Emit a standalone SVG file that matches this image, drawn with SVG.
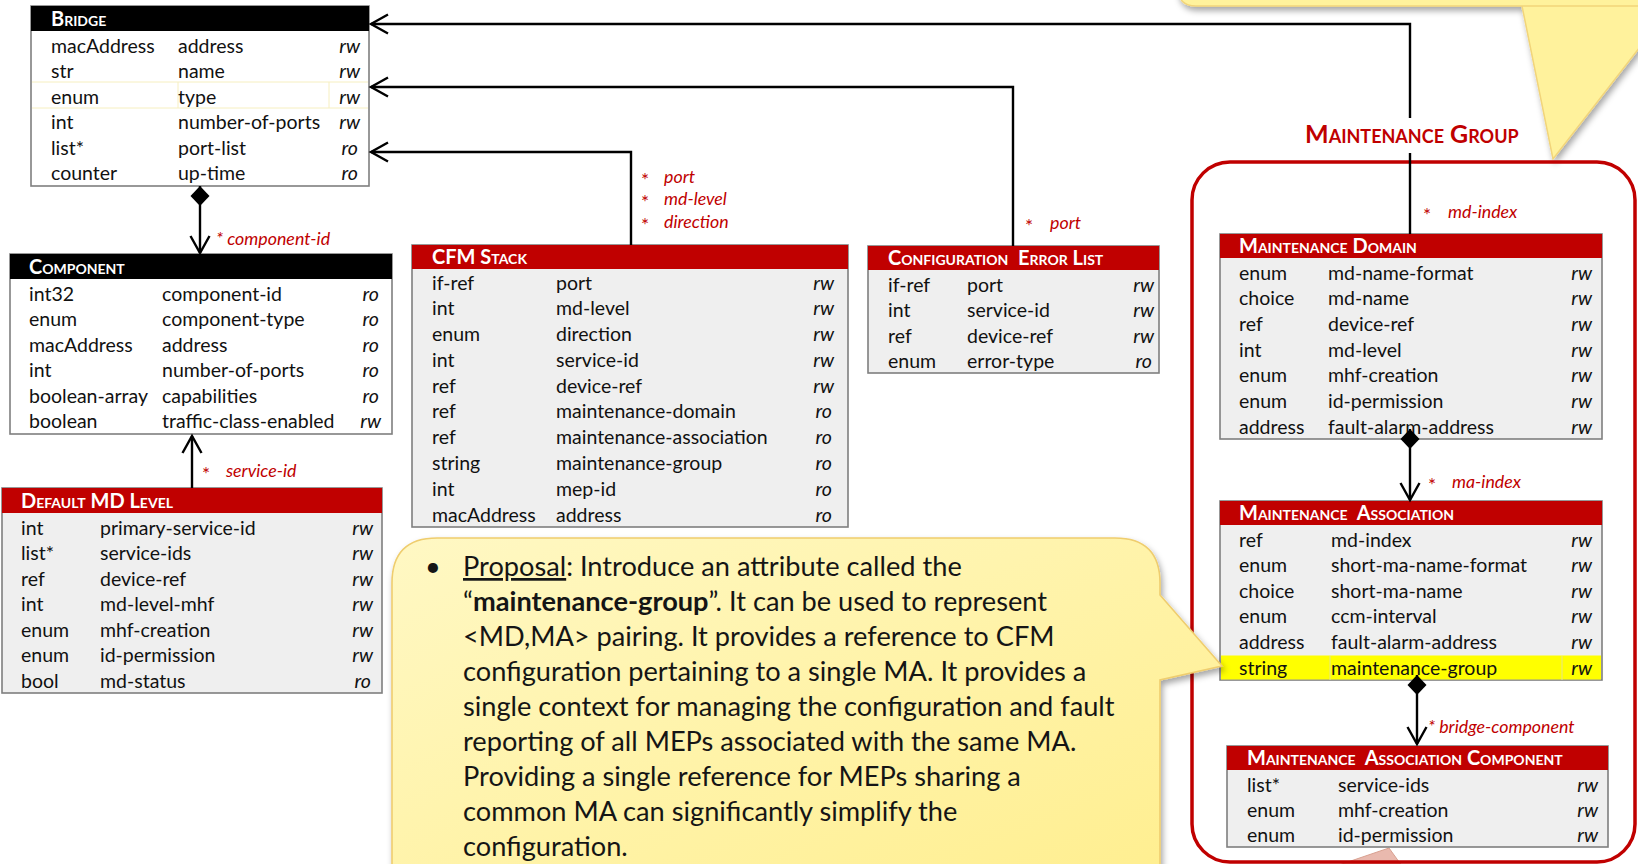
<svg xmlns="http://www.w3.org/2000/svg" width="1638" height="864" viewBox="0 0 1638 864">
  <defs>
    <style>
      .box { stroke: #7f7f7f; stroke-width: 1.6; }
      .gray { fill: #efefef; }
      .white { fill: #ffffff; }
      .hred { fill: #c00000; }
      .hblk { fill: #000000; }
      .title { font-family: Lato, "Liberation Sans", sans-serif; font-weight: bold; font-variant: small-caps; font-size: 20px; fill: #ffffff; white-space: pre; }
      .cell { font-family: Lato, "Liberation Sans", sans-serif; font-size: 19.5px; fill: #111111; }
      .acc { font-family: Lato, "Liberation Sans", sans-serif; font-size: 19.5px; font-style: italic; fill: #111111; text-anchor: end; }
      .lbl { font-family: Lato, "Liberation Sans", sans-serif; font-size: 17.8px; font-style: italic; fill: #c00000; }
      .star { font-family: Lato, "Liberation Sans", sans-serif; font-size: 19px; fill: #c00000; }
      .conn { fill: none; stroke: #000000; stroke-width: 2.4; }
      .note { font-family: Lato, "Liberation Sans", sans-serif; font-size: 27.2px; fill: #151515; }
      .grp { font-family: Lato, "Liberation Sans", sans-serif; font-weight: bold; font-variant: small-caps; font-size: 25px; fill: #c00000; }
    </style>
    <marker id="arrow" markerUnits="userSpaceOnUse" markerWidth="26" markerHeight="26" viewBox="-22 -13 26 26" refX="0" refY="0" orient="auto">
      <path d="M-17,-9.5 L0,0 L-17,9.5" fill="none" stroke="#000" stroke-width="2.4"/>
    </marker>
    <marker id="diamond" markerUnits="userSpaceOnUse" markerWidth="26" markerHeight="26" viewBox="-2 -13 26 26" refX="0" refY="0" orient="auto">
      <path d="M0,0 L10,-9.5 L20,0 L10,9.5 Z" fill="#000"/>
    </marker>
    <linearGradient id="noteFill" x1="0" y1="0" x2="1" y2="1">
      <stop offset="0" stop-color="#fff8c4"/>
      <stop offset="1" stop-color="#ffee8c"/>
    </linearGradient>
    <filter id="shadow" x="-5%" y="-5%" width="110%" height="115%">
      <feDropShadow dx="2" dy="4" stdDeviation="3" flood-color="#000" flood-opacity="0.35"/>
    </filter>
  </defs>

  <rect width="1638" height="864" fill="#ffffff"/>

  <!-- callout peeking in at the top right -->
  <g id="note-top" filter="url(#shadow)">
    <path d="M1196,-40 H1660 V6 H1522 L1553,159 L1640,47 V6 H1522 H1196 Q1178,6 1178,-12 V-40 Z" fill="#fff29c" stroke="#f2d57a" stroke-width="1.5"/>
  </g>

  <!-- callout peeking in at the bottom -->
  <polygon id="note-bottom" points="1336,866 1389,848 1402,866" fill="#e9b9ae" stroke="#d8a090" stroke-width="1"/>

  <!-- maintenance group frame -->
  <g id="maintenance-group">
    <rect x="1192" y="162" width="443" height="700" rx="38" ry="38" fill="none" stroke="#c00000" stroke-width="3.5"/>
    <text class="grp" x="1305" y="143">Maintenance Group</text>
  </g>

  <!-- Bridge -->
  <g id="bridge">
    <rect class="box white" x="31" y="6" width="338" height="180"/>
    <rect class="hblk" x="31" y="6" width="338" height="25"/>
    <path d="M32,82 H368 M32,108 H368 M178,82 V108 M329,82 V108" stroke="#f6efc0" stroke-width="1" fill="none"/>
    <text class="title" x="51" y="26">Bridge</text>
    <text class="cell" x="51" y="52.5">macAddress</text><text class="cell" x="178" y="52.5">address</text><text class="acc" x="360" y="52.5">rw</text>
    <text class="cell" x="51" y="78">str</text><text class="cell" x="178" y="78">name</text><text class="acc" x="360" y="78">rw</text>
    <text class="cell" x="51" y="103.5">enum</text><text class="cell" x="178" y="103.5">type</text><text class="acc" x="360" y="103.5">rw</text>
    <text class="cell" x="51" y="129">int</text><text class="cell" x="178" y="129">number-of-ports</text><text class="acc" x="360" y="129">rw</text>
    <text class="cell" x="51" y="154.5">list*</text><text class="cell" x="178" y="154.5">port-list</text><text class="acc" x="358" y="154.5">ro</text>
    <text class="cell" x="51" y="180">counter</text><text class="cell" x="178" y="180">up-time</text><text class="acc" x="358" y="180">ro</text>
  </g>

  <!-- Component -->
  <g id="component">
    <rect class="box white" x="10" y="254" width="382" height="180"/>
    <rect class="hblk" x="10" y="254" width="382" height="25"/>
    <text class="title" x="29" y="274">Component</text>
    <text class="cell" x="29" y="300.5">int32</text><text class="cell" x="162" y="300.5">component-id</text><text class="acc" x="379" y="300.5">ro</text>
    <text class="cell" x="29" y="326">enum</text><text class="cell" x="162" y="326">component-type</text><text class="acc" x="379" y="326">ro</text>
    <text class="cell" x="29" y="351.5">macAddress</text><text class="cell" x="162" y="351.5">address</text><text class="acc" x="379" y="351.5">ro</text>
    <text class="cell" x="29" y="377">int</text><text class="cell" x="162" y="377">number-of-ports</text><text class="acc" x="379" y="377">ro</text>
    <text class="cell" x="29" y="402.5">boolean-array</text><text class="cell" x="162" y="402.5">capabilities</text><text class="acc" x="379" y="402.5">ro</text>
    <text class="cell" x="29" y="428">boolean</text><text class="cell" x="162" y="428">traffic-class-enabled</text><text class="acc" x="381" y="428">rw</text>
  </g>

  <!-- Default MD Level -->
  <g id="default-md-level">
    <rect class="box gray" x="2" y="488" width="380" height="205"/>
    <rect class="hred" x="2" y="488" width="380" height="25"/>
    <text class="title" x="21" y="508">Default MD Level</text>
    <text class="cell" x="21" y="534.5">int</text><text class="cell" x="100" y="534.5">primary-service-id</text><text class="acc" x="373" y="534.5">rw</text>
    <text class="cell" x="21" y="560">list*</text><text class="cell" x="100" y="560">service-ids</text><text class="acc" x="373" y="560">rw</text>
    <text class="cell" x="21" y="585.5">ref</text><text class="cell" x="100" y="585.5">device-ref</text><text class="acc" x="373" y="585.5">rw</text>
    <text class="cell" x="21" y="611">int</text><text class="cell" x="100" y="611">md-level-mhf</text><text class="acc" x="373" y="611">rw</text>
    <text class="cell" x="21" y="636.5">enum</text><text class="cell" x="100" y="636.5">mhf-creation</text><text class="acc" x="373" y="636.5">rw</text>
    <text class="cell" x="21" y="662">enum</text><text class="cell" x="100" y="662">id-permission</text><text class="acc" x="373" y="662">rw</text>
    <text class="cell" x="21" y="687.5">bool</text><text class="cell" x="100" y="687.5">md-status</text><text class="acc" x="371" y="687.5">ro</text>
  </g>

  <!-- CFM Stack -->
  <g id="cfm-stack">
    <rect class="box gray" x="412" y="245" width="436" height="282"/>
    <rect class="hred" x="412" y="245" width="436" height="24"/>
    <text class="title" x="432" y="264">CFM Stack</text>
    <text class="cell" x="432" y="289.5">if-ref</text><text class="cell" x="556" y="289.5">port</text><text class="acc" x="834" y="289.5">rw</text>
    <text class="cell" x="432" y="315.3">int</text><text class="cell" x="556" y="315.3">md-level</text><text class="acc" x="834" y="315.3">rw</text>
    <text class="cell" x="432" y="341.1">enum</text><text class="cell" x="556" y="341.1">direction</text><text class="acc" x="834" y="341.1">rw</text>
    <text class="cell" x="432" y="366.8">int</text><text class="cell" x="556" y="366.8">service-id</text><text class="acc" x="834" y="366.8">rw</text>
    <text class="cell" x="432" y="392.6">ref</text><text class="cell" x="556" y="392.6">device-ref</text><text class="acc" x="834" y="392.6">rw</text>
    <text class="cell" x="432" y="418.4">ref</text><text class="cell" x="556" y="418.4">maintenance-domain</text><text class="acc" x="832" y="418.4">ro</text>
    <text class="cell" x="432" y="444.2">ref</text><text class="cell" x="556" y="444.2">maintenance-association</text><text class="acc" x="832" y="444.2">ro</text>
    <text class="cell" x="432" y="469.9">string</text><text class="cell" x="556" y="469.9">maintenance-group</text><text class="acc" x="832" y="469.9">ro</text>
    <text class="cell" x="432" y="495.7">int</text><text class="cell" x="556" y="495.7">mep-id</text><text class="acc" x="832" y="495.7">ro</text>
    <text class="cell" x="432" y="521.5">macAddress</text><text class="cell" x="556" y="521.5">address</text><text class="acc" x="832" y="521.5">ro</text>
  </g>

  <!-- Configuration Error List -->
  <g id="configuration-error-list">
    <rect class="box gray" x="868" y="246" width="291" height="127"/>
    <rect class="hred" x="868" y="246" width="291" height="24"/>
    <text class="title" x="888" y="265" xml:space="preserve">Configuration  Error List</text>
    <text class="cell" x="888" y="291.5">if-ref</text><text class="cell" x="967" y="291.5">port</text><text class="acc" x="1154" y="291.5">rw</text>
    <text class="cell" x="888" y="317">int</text><text class="cell" x="967" y="317">service-id</text><text class="acc" x="1154" y="317">rw</text>
    <text class="cell" x="888" y="342.5">ref</text><text class="cell" x="967" y="342.5">device-ref</text><text class="acc" x="1154" y="342.5">rw</text>
    <text class="cell" x="888" y="368">enum</text><text class="cell" x="967" y="368">error-type</text><text class="acc" x="1152" y="368">ro</text>
  </g>

  <!-- Maintenance Domain -->
  <g id="maintenance-domain">
    <rect class="box gray" x="1220" y="234" width="382" height="205"/>
    <rect class="hred" x="1220" y="234" width="382" height="24"/>
    <text class="title" x="1239" y="253">Maintenance Domain</text>
    <text class="cell" x="1239" y="279.5">enum</text><text class="cell" x="1328" y="279.5">md-name-format</text><text class="acc" x="1592" y="279.5">rw</text>
    <text class="cell" x="1239" y="305.2">choice</text><text class="cell" x="1328" y="305.2">md-name</text><text class="acc" x="1592" y="305.2">rw</text>
    <text class="cell" x="1239" y="330.8">ref</text><text class="cell" x="1328" y="330.8">device-ref</text><text class="acc" x="1592" y="330.8">rw</text>
    <text class="cell" x="1239" y="356.5">int</text><text class="cell" x="1328" y="356.5">md-level</text><text class="acc" x="1592" y="356.5">rw</text>
    <text class="cell" x="1239" y="382.2">enum</text><text class="cell" x="1328" y="382.2">mhf-creation</text><text class="acc" x="1592" y="382.2">rw</text>
    <text class="cell" x="1239" y="407.8">enum</text><text class="cell" x="1328" y="407.8">id-permission</text><text class="acc" x="1592" y="407.8">rw</text>
    <text class="cell" x="1239" y="433.5">address</text><text class="cell" x="1328" y="433.5">fault-alarm-address</text><text class="acc" x="1592" y="433.5">rw</text>
  </g>

  <!-- Maintenance Association -->
  <g id="maintenance-association">
    <rect class="box gray" x="1220" y="501" width="382" height="179"/>
    <rect class="hred" x="1220" y="501" width="382" height="24"/>
    <rect x="1221" y="655.5" width="380" height="24" fill="#ffff00"/>
    <path d="M1330,656 V680 M1562,656 V680" stroke="#e4e48a" stroke-width="1"/>
    <text class="title" x="1239" y="520" xml:space="preserve">Maintenance  Association</text>
    <text class="cell" x="1239" y="546.5">ref</text><text class="cell" x="1331" y="546.5">md-index</text><text class="acc" x="1592" y="546.5">rw</text>
    <text class="cell" x="1239" y="572.1">enum</text><text class="cell" x="1331" y="572.1">short-ma-name-format</text><text class="acc" x="1592" y="572.1">rw</text>
    <text class="cell" x="1239" y="597.7">choice</text><text class="cell" x="1331" y="597.7">short-ma-name</text><text class="acc" x="1592" y="597.7">rw</text>
    <text class="cell" x="1239" y="623.3">enum</text><text class="cell" x="1331" y="623.3">ccm-interval</text><text class="acc" x="1592" y="623.3">rw</text>
    <text class="cell" x="1239" y="648.9">address</text><text class="cell" x="1331" y="648.9">fault-alarm-address</text><text class="acc" x="1592" y="648.9">rw</text>
    <text class="cell" x="1239" y="674.5">string</text><text class="cell" x="1331" y="674.5">maintenance-group</text><text class="acc" x="1592" y="674.5">rw</text>
  </g>

  <!-- Maintenance Association Component -->
  <g id="maintenance-association-component">
    <rect class="box gray" x="1227" y="746" width="381" height="101"/>
    <rect class="hred" x="1227" y="746" width="381" height="24"/>
    <text class="title" x="1247" y="765" xml:space="preserve">Maintenance  Association Component</text>
    <text class="cell" x="1247" y="791.5">list*</text><text class="cell" x="1338" y="791.5">service-ids</text><text class="acc" x="1598" y="791.5">rw</text>
    <text class="cell" x="1247" y="816.5">enum</text><text class="cell" x="1338" y="816.5">mhf-creation</text><text class="acc" x="1598" y="816.5">rw</text>
    <text class="cell" x="1247" y="841.5">enum</text><text class="cell" x="1338" y="841.5">id-permission</text><text class="acc" x="1598" y="841.5">rw</text>
  </g>

  <!-- connectors -->
  <g id="connectors">
    <path class="conn" d="M200,186 V253" marker-start="url(#diamond)" marker-end="url(#arrow)"/>
    <path class="conn" d="M192,488 V436" marker-end="url(#arrow)"/>
    <path class="conn" d="M631,245 V152 H371" marker-end="url(#arrow)"/>
    <path class="conn" d="M1013,246 V87 H371" marker-end="url(#arrow)"/>
    <path class="conn" d="M1410,234 V153"/>
    <path class="conn" d="M1410,118 V24 H371" marker-end="url(#arrow)"/>
    <path class="conn" d="M1410,429 V500" marker-start="url(#diamond)" marker-end="url(#arrow)"/>
    <path class="conn" d="M1417,675 V744" marker-start="url(#diamond)" marker-end="url(#arrow)"/>
  </g>

  <!-- connector labels -->
  <g id="connector-labels">
    <text class="lbl" x="216" y="245">* component-id</text>
    <text class="star" x="202" y="481">*</text><text class="lbl" x="226" y="477">service-id</text>
    <text class="star" x="641" y="187">*</text><text class="lbl" x="664" y="183">port</text>
    <text class="star" x="641" y="209">*</text><text class="lbl" x="664" y="205">md-level</text>
    <text class="star" x="641" y="232">*</text><text class="lbl" x="664" y="228">direction</text>
    <text class="star" x="1025" y="233">*</text><text class="lbl" x="1050" y="229">port</text>
    <text class="star" x="1423" y="222">*</text><text class="lbl" x="1448" y="218">md-index</text>
    <text class="star" x="1428" y="492">*</text><text class="lbl" x="1452" y="488">ma-index</text>
    <text class="lbl" x="1428" y="733">* bridge-component</text>
  </g>

  <!-- proposal callout -->
  <g id="proposal-note">
    <path filter="url(#shadow)" d="M437,538 H1115 Q1160,538 1160,583 V595 L1222,666 L1160,680 V900 H392 V583 Q392,538 437,538 Z" fill="url(#noteFill)" stroke="#efcd6e" stroke-width="1.6"/>
    <text class="note" x="425" y="576">•</text>
    <text class="note" x="463" y="576"><tspan text-decoration="underline">Proposal</tspan>: Introduce an attribute called the</text>
    <text class="note" x="463" y="611">“<tspan font-weight="bold">maintenance-group</tspan>”. It can be used to represent</text>
    <text class="note" x="463" y="646">&lt;MD,MA&gt; pairing. It provides a reference to CFM</text>
    <text class="note" x="463" y="681">configuration pertaining to a single MA. It provides a</text>
    <text class="note" x="463" y="716">single context for managing the configuration and fault</text>
    <text class="note" x="463" y="751">reporting of all MEPs associated with the same MA.</text>
    <text class="note" x="463" y="786">Providing a single reference for MEPs sharing a</text>
    <text class="note" x="463" y="821">common MA can significantly simplify the</text>
    <text class="note" x="463" y="856">configuration.</text>
  </g>
</svg>
